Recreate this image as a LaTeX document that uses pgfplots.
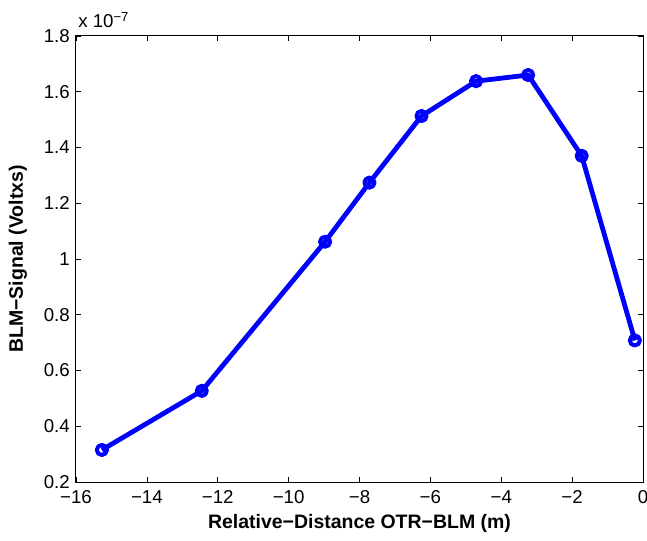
\documentclass[border=0pt]{standalone}
\usepackage{fontspec}
\setmainfont{Liberation Sans}
\usepackage{pgfplots}
\pgfplotsset{compat=1.18}
\usetikzlibrary{calc}
\definecolor{mblue}{RGB}{0,0,255}
\begin{document}
\fontsize{13.5pt}{16pt}\selectfont
\begin{tikzpicture}
\begin{axis}[
  scale only axis, width=425.25pt, height=334.5pt,
  xmin=-16, xmax=0, ymin=0.2, ymax=1.8,
  xtick={-16,-14,-12,-10,-8,-6,-4,-2,0},
  xticklabels={−16,−14,−12,−10,−8,−6,−4,−2,0},
  ytick={0.2,0.4,0.6,0.8,1,1.2,1.4,1.6,1.8},
  yticklabels={0.2,0.4,0.6,0.8,1,1.2,1.4,1.6,1.8},
  tick align=inside, major tick length=4pt,
  tick style={black, line width=0.5pt},
  axis line style={line width=0.75pt},
  ticklabel style={font=\fontsize{14pt}{16pt}\selectfont},
  xticklabel style={yshift=-1.5pt},
  xlabel={\bfseries Relative−Distance OTR−BLM (m)},
  ylabel={\bfseries BLM−Signal (Voltxs)},
  label style={font=\fontsize{14.6pt}{17pt}\selectfont},
  xlabel style={at={(axis description cs:0.5,-0.0919)}, anchor=center},
  ylabel style={at={(axis description cs:-0.1023,0.5)}, anchor=center},
  clip=false,
]
\addplot[color=mblue, line width=3.6pt, line join=round, mark=o, mark size=3.8pt, mark options={solid, line width=3pt}] coordinates {
  (-15.27,0.315) (-12.45,0.527) (-8.97,1.062) (-7.72,1.274) (-6.25,1.513)
  (-4.71,1.638) (-3.24,1.660) (-1.73,1.370) (-0.23,0.708)
};
\coordinate (sw) at (rel axis cs:0,0);
\coordinate (ne) at (rel axis cs:1,1);
\node[anchor=base west, inner sep=0pt, font=\fontsize{14pt}{16pt}\selectfont] at ([xshift=1.5pt, yshift=6pt]rel axis cs:0,1) {x 10\textsuperscript{−7}};
\end{axis}
\pgfresetboundingbox
\path ($(sw)+(-57pt,-43.5pt)$) rectangle ($(ne)+(3pt,27pt)$);
\end{tikzpicture}
\end{document}
